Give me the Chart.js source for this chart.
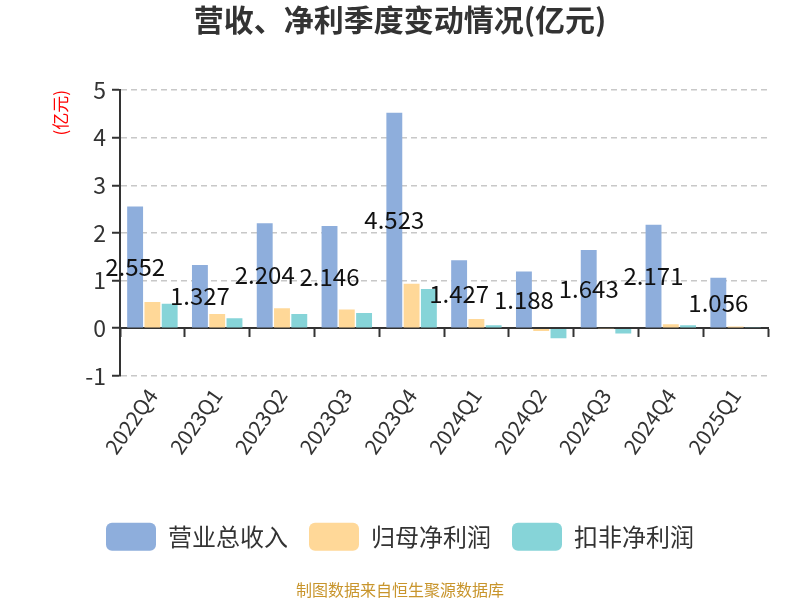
<!DOCTYPE html>
<html>
<head>
<meta charset="utf-8">
<script src="https://cdn.jsdelivr.net/npm/chart.js@4.4.1/dist/chart.umd.min.js"></script>
<style>
  html, body { margin: 0; padding: 0; background: #fff; }
  #wrap { width: 800px; height: 600px; }
</style>
</head>
<body>
<div id="wrap"><canvas id="chart" width="800" height="600"></canvas></div>
<script>
// 季度 (x 轴)
const quarters = ['2022Q4', '2023Q1', '2023Q2', '2023Q3', '2023Q4', '2024Q1', '2024Q2', '2024Q3', '2024Q4', '2025Q1'];
// 营业总收入 (亿元)
const revenue = [2.552, 1.327, 2.204, 2.146, 4.523, 1.427, 1.188, 1.643, 2.171, 1.056];
// 归母净利润 (亿元)
const netProfit = [0.55, 0.30, 0.42, 0.39, 0.93, 0.19, -0.06, -0.01, 0.08, 0.035];
// 扣非净利润 (亿元)
const deductedProfit = [0.51, 0.21, 0.30, 0.32, 0.82, 0.06, -0.21, -0.11, 0.06, 0.01];
// y 轴刻度
const yTicks = [-1, 0, 1, 2, 3, 4, 5];

const FONT = '"Noto Sans CJK SC", "Noto Sans", sans-serif';
const COLORS = ['#8eaedc', '#ffd898', '#86d4d8'];

// 柱子中部显示营业总收入数值
const barValueLabels = {
    id: 'barValueLabels',
    afterDatasetsDraw(chart) {
        const ctx = chart.ctx;
        const meta = chart.getDatasetMeta(0);
        ctx.save();
        ctx.font = '24px ' + FONT;
        ctx.fillStyle = '#111';
        ctx.textAlign = 'center';
        ctx.textBaseline = 'middle';
        meta.data.forEach((bar, i) => {
            ctx.fillText(revenue[i].toFixed(3), bar.x, (bar.y + bar.base) / 2);
        });
        ctx.restore();
    }
};

const ctx = document.getElementById('chart').getContext('2d');
new Chart(ctx, {
    type: 'bar',
    data: {
        labels: quarters,
        datasets: [
            { label: '营业总收入', data: revenue, backgroundColor: COLORS[0] },
            { label: '归母净利润', data: netProfit, backgroundColor: COLORS[1] },
            { label: '扣非净利润', data: deductedProfit, backgroundColor: COLORS[2] }
        ]
    },
    options: {
        responsive: false,
        animation: false,
        devicePixelRatio: 1,
        categoryPercentage: 0.8,
        barPercentage: 0.92,
        layout: { padding: 0 },
        plugins: {
            title: {
                display: true,
                text: '营收、净利季度变动情况(亿元)',
                color: '#333',
                font: { family: FONT, size: 30, weight: 'bold' },
                padding: { top: 2, bottom: 52 }
            },
            subtitle: {
                display: true,
                position: 'bottom',
                text: '制图数据来自恒生聚源数据库',
                color: '#c8952c',
                font: { family: FONT, size: 16 },
                padding: { top: 20, bottom: 0 }
            },
            legend: {
                position: 'bottom',
                labels: {
                    color: '#333',
                    font: { family: FONT, size: 24 },
                    boxWidth: 50,
                    boxHeight: 28,
                    padding: 21,
                    useBorderRadius: true,
                    borderRadius: 6
                }
            },
            tooltip: { enabled: false }
        },
        scales: {
            x: {
                type: 'category',
                position: 'bottom',
                grid: { display: false },
                border: { display: false },
                ticks: {
                    color: '#333',
                    font: { family: FONT, size: 21 },
                    minRotation: 55,
                    maxRotation: 55,
                    padding: 0,
                    labelOffset: 0
                },
                afterFit(scale) { scale.height = 126; }
            },
            // 零线上的 x 轴线与刻度
            xZero: {
                type: 'category',
                labels: quarters,
                offset: true,
                position: { y: 0 },
                z: 1,
                grid: {
                    display: true,
                    offset: true,
                    drawOnChartArea: false,
                    drawTicks: true,
                    tickLength: 8,
                    tickColor: '#333',
                    tickWidth: 2
                },
                border: { display: true, color: '#333', width: 2 },
                ticks: { display: false }
            },
            y: {
                min: -1,
                max: 5,
                afterBuildTicks(scale) { scale.ticks = yTicks.map(v => ({ value: v })); },
                ticks: {
                    color: '#333',
                    font: { family: FONT, size: 23 },
                    padding: 6
                },
                grid: {
                    color: (c) => (c.tick && c.tick.value === 0 ? 'rgba(0,0,0,0)' : '#c8c8c8'),
                    lineWidth: 1.5,
                    tickColor: '#333',
                    tickLength: 8,
                    tickWidth: 2
                },
                border: { display: true, color: '#333', width: 2, dash: [6, 4] },
                title: {
                    display: true,
                    text: '(亿元)',
                    align: 'end',
                    color: '#ff0000',
                    font: { family: FONT, size: 17 },
                    padding: { top: 50, bottom: 0 }
                },
                afterFit(scale) { scale.width = 120; }
            },
            // 右侧留白
            yRight: {
                position: 'right',
                display: true,
                grid: { display: false, drawTicks: false },
                border: { display: false },
                ticks: { display: false },
                afterFit(scale) { scale.width = 32; }
            }
        }
    },
    plugins: [barValueLabels]
});
</script>
</body>
</html>
